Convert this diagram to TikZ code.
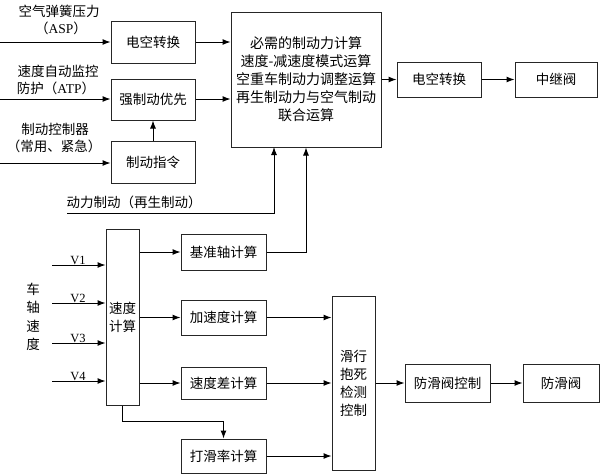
\documentclass[tikz,border=0pt]{standalone}
\usepackage{fontspec}
\setmainfont{Liberation Serif}
\newfontfamily\cjk{Noto Sans CJK SC}
\usetikzlibrary{arrows.meta}
\tikzset{
  box/.style={draw=black!85,line width=1pt,rectangle,inner sep=0pt,align=center,font=\cjk\fontsize{13.5}{18}\selectfont},
  arr/.style={line width=1pt,-{Latex[length=8pt,width=6pt]}},
  lbl/.style={inner sep=0pt,align=center,font=\cjk\fontsize{13.5}{17}\selectfont},
  vl/.style={inner sep=0pt,font=\rmfamily\fontsize{12.5}{14}\selectfont}
}
\begin{document}
\begin{tikzpicture}[x=1pt,y=-1pt]
\useasboundingbox (0,0) rectangle (600,474);
% boxes
\node[box,minimum width=84pt,minimum height=42pt] (ea1) at (153,42) {电空转换};
\node[box,minimum width=84pt,minimum height=41pt] (qz) at (153,99.5) {强制动优先};
\node[box,minimum width=84pt,minimum height=42pt] (zl) at (153,162) {制动指令};
\node[box,minimum width=150pt,minimum height=135pt,font=\cjk\fontsize{14}{18}\selectfont] (big) at (306,79.5) {必需的制动力计算\\速度-减速度模式运算\\空重车制动力调整运算\\再生制动力与空气制动\\联合运算};
\node[box,minimum width=84pt,minimum height=35pt] (ea2) at (439,79.5) {电空转换};
\node[box,minimum width=82pt,minimum height=35pt] (zj) at (556,79.5) {中继阀};
\node[box,minimum width=33pt,minimum height=176pt] (sd) at (122.5,317) {速度\\计算};
\node[box,minimum width=85pt,minimum height=36pt] (jz) at (223.5,252) {基准轴计算};
\node[box,minimum width=85pt,minimum height=35pt] (js) at (223.5,317.5) {加速度计算};
\node[box,minimum width=85pt,minimum height=32pt] (sc) at (223.5,383) {速度差计算};
\node[box,minimum width=85pt,minimum height=34pt] (dh) at (223.5,456) {打滑率计算};
\node[box,minimum width=43pt,minimum height=174pt] (hx) at (353.5,383) {滑行\\抱死\\检测\\控制};
\node[box,minimum width=85pt,minimum height=38pt] (fk) at (447.5,383) {防滑阀控制};
\node[box,minimum width=76pt,minimum height=38pt] (ff) at (561,383) {防滑阀};
% labels
\node[lbl] (t1) at (59,11) {空气弹簧压力};
\node[lbl] (t2) at (61,28) {（{\rmfamily ASP}）};
\node[lbl] (t3) at (58,71) {速度自动监控};
\node[lbl] (t4) at (56,88) {防护（{\rmfamily ATP}）};
\node[lbl] (t5) at (55,129) {制动控制器};
\node[lbl] (t6) at (54,146) {（常用、紧急）};
\node[lbl] (t7) at (134,202) {动力制动（再生制动）};
\node[lbl,font=\cjk\fontsize{13.5}{18.5}\selectfont] (t8) at (33,317) {车\\轴\\速\\度};
\node[vl] (lv1) at (78,260) {V1};
\node[vl] (lv2) at (78,298) {V2};
\node[vl] (lv3) at (78,338) {V3};
\node[vl] (lv4) at (78,376) {V4};
% free ends
\coordinate (i1) at (0,42);
\coordinate (i2) at (0,99);
\coordinate (i3) at (0,163);
\coordinate (i4) at (67,213);
\coordinate (b1) at (274,147);
\coordinate (v1) at (52,265);
\coordinate (v2) at (52,303);
\coordinate (v3) at (52,343);
\coordinate (v4) at (52,381);
% connectors
\draw[arr] (i1) -- (ea1.west);
\draw[arr] (i2) -- (i2 -| qz.west);
\draw[arr] (i3) -- (i3 -| zl.west);
\draw[arr] (ea1.east) -- (ea1.east -| big.west);
\draw[arr] (qz.east |- i2) -- (i2 -| big.west);
\draw[arr] (zl.north) -- (qz.south);
\draw[arr] (i4) -| (b1);
\draw[arr] (ea2.west -| big.east) -- (ea2.west);
\draw[arr] (ea2.east) -- (zj.west);
\draw[arr] (v1) -- (v1 -| sd.west);
\draw[arr] (v2) -- (v2 -| sd.west);
\draw[arr] (v3) -- (v3 -| sd.west);
\draw[arr] (v4) -- (v4 -| sd.west);
\draw[arr] (jz.west -| sd.east) -- (jz.west);
\draw[arr] (js.west -| sd.east) -- (js.west);
\draw[arr] (sc.west -| sd.east) -- (sc.west);
\draw[arr] (sd.south) -- ++(0,16) -| (dh.north);
\draw[arr] (jz.east) -| (big.south);
\draw[arr] (js.east) -- (js.east -| hx.west);
\draw[arr] (sc.east) -- (sc.east -| hx.west);
\draw[arr] (dh.east) -- (dh.east -| hx.west);
\draw[arr] (hx.east |- fk.west) -- (fk.west);
\draw[arr] (fk.east) -- (ff.west);
\end{tikzpicture}
\end{document}
